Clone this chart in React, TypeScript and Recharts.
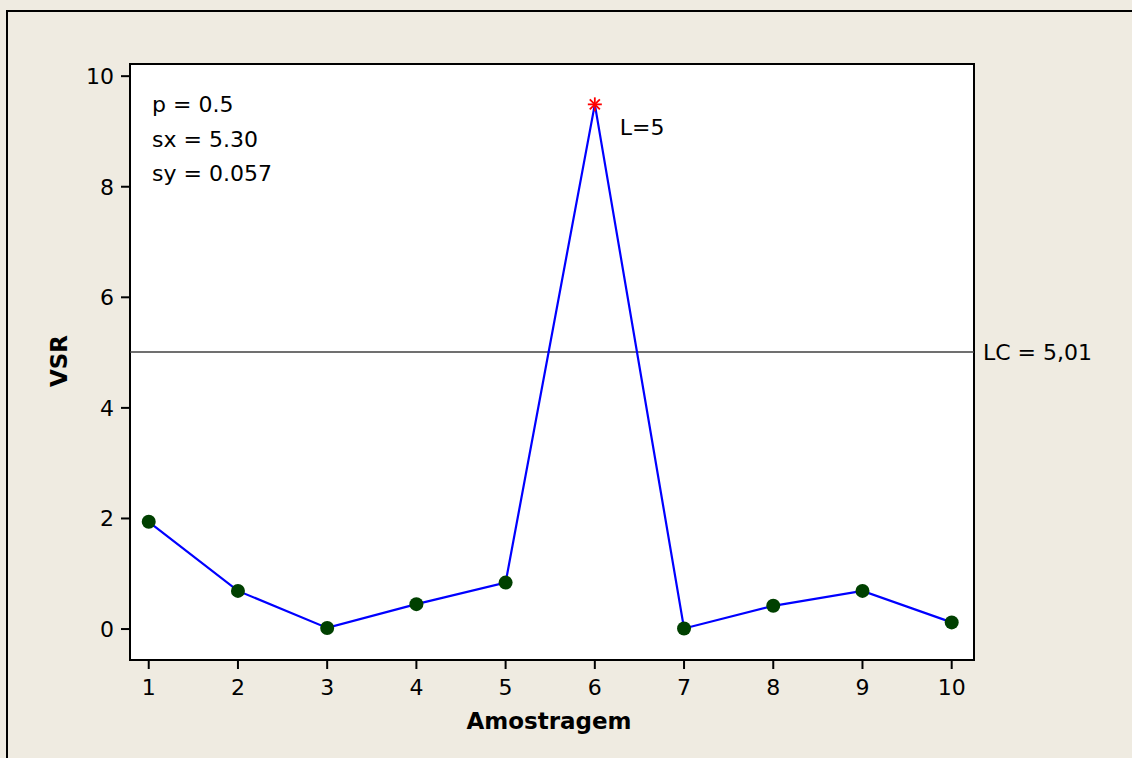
import React from "react";
import {
  LineChart,
  Line,
  XAxis,
  YAxis,
  ReferenceLine,
  ReferenceArea,
} from "recharts";

const samples = [1, 2, 3, 4, 5, 6, 7, 8, 9, 10];
const vsr = [1.94, 0.69, 0.02, 0.45, 0.84, 9.49, 0.01, 0.42, 0.69, 0.12];
const xTicks = [1, 2, 3, 4, 5, 6, 7, 8, 9, 10];
const yTicks = [0, 2, 4, 6, 8, 10];
const limitValue = 5.01;
const limitLabel = "LC = 5,01";
const signalIndex = 5;
const signalLabel = "L=5";
const notes = ["p = 0.5", "sx = 5.30", "sy = 0.057"];
const xTitle = "Amostragem";
const yTitle = "VSR";

const data = samples.map((s, i) => ({ x: s, y: vsr[i] }));

const FONT = "'DejaVu Sans', Verdana, sans-serif";
const BG = "#EFEBE1";

const xDomain: [number, number] = [0.79, 10.25];
const yDomain: [number, number] = [-0.56, 10.22];

const Dot = (props: any) => {
  const { cx, cy, index } = props;
  if (cx == null || cy == null) return null;
  if (index === signalIndex) {
    const s = 7;
    const d = s * 0.72;
    return (
      <g key={`d${index}`}>
        <line x1={cx - s} y1={cy} x2={cx + s} y2={cy} stroke="#FF0000" strokeWidth={1.8} />
        <line x1={cx} y1={cy - s} x2={cx} y2={cy + s} stroke="#FF0000" strokeWidth={1.8} />
        <line x1={cx - d} y1={cy - d} x2={cx + d} y2={cy + d} stroke="#FF0000" strokeWidth={1.8} />
        <line x1={cx - d} y1={cy + d} x2={cx + d} y2={cy - d} stroke="#FF0000" strokeWidth={1.8} />
        <text x={cx + 25} y={cy + 31} fontFamily={FONT} fontSize={22} fill="#000">
          {signalLabel}
        </text>
      </g>
    );
  }
  return <circle key={`d${index}`} cx={cx} cy={cy} r={7} fill="#004000" />;
};

export default function App() {
  return (
    <div
      style={{
        position: "absolute",
        left: 0,
        top: 0,
        width: 1132,
        height: 758,
        background: BG,
        overflow: "hidden",
      }}
    >
      <div
        style={{
          position: "absolute",
          left: 6,
          top: 10,
          width: 1300,
          height: 900,
          border: "2px solid #000",
          boxSizing: "border-box",
        }}
      />
      <div style={{ position: "absolute", left: 0, top: 0 }}>
        <LineChart
          width={1132}
          height={758}
          data={data}
          margin={{ top: 64, right: 158, bottom: 58, left: 70 }}
        >
          <XAxis
            dataKey="x"
            type="number"
            domain={xDomain}
            ticks={xTicks}
            allowDataOverflow
            axisLine={false}
            tickLine={{ stroke: "#000", strokeWidth: 2 }}
            tickSize={9}
            tickMargin={10}
            height={40}
            tick={{ fill: "#000", fontSize: 22, fontFamily: FONT }}
          />
          <YAxis
            type="number"
            domain={yDomain}
            ticks={yTicks}
            allowDataOverflow
            axisLine={false}
            tickLine={{ stroke: "#000", strokeWidth: 2 }}
            tickSize={9}
            tickMargin={7}
            width={60}
            tick={{ fill: "#000", fontSize: 22, fontFamily: FONT }}
          />
          <ReferenceArea
            x1={xDomain[0]}
            x2={xDomain[1]}
            y1={yDomain[0]}
            y2={yDomain[1]}
            fill="#FFFFFF"
            fillOpacity={1}
            stroke="#000"
            strokeWidth={2}
          />
          <ReferenceLine
            y={limitValue}
            stroke="#404040"
            strokeWidth={1.5}
            label={{
              value: limitLabel,
              position: "right",
              offset: 9,
              fill: "#000",
              fontSize: 22,
              fontFamily: FONT,
            }}
          />
          <Line
            type="linear"
            dataKey="y"
            stroke="#0000FF"
            strokeWidth={2.2}
            dot={Dot}
            activeDot={false}
            isAnimationActive={false}
          />
        </LineChart>
      </div>
      <svg
        width={1132}
        height={758}
        style={{ position: "absolute", left: 0, top: 0, pointerEvents: "none" }}
      >
        {notes.map((n, i) => (
          <text key={n} x={152} y={112 + i * 34.5} fontFamily={FONT} fontSize={22} fill="#000">
            {n}
          </text>
        ))}
        <text
          transform="translate(67,361) rotate(-90)"
          textAnchor="middle"
          fontFamily={FONT}
          fontWeight="bold"
          fontSize={23}
          fill="#000"
        >
          {yTitle}
        </text>
        <text
          x={549}
          y={729}
          textAnchor="middle"
          fontFamily={FONT}
          fontWeight="bold"
          fontSize={23}
          fill="#000"
        >
          {xTitle}
        </text>
      </svg>
    </div>
  );
}
